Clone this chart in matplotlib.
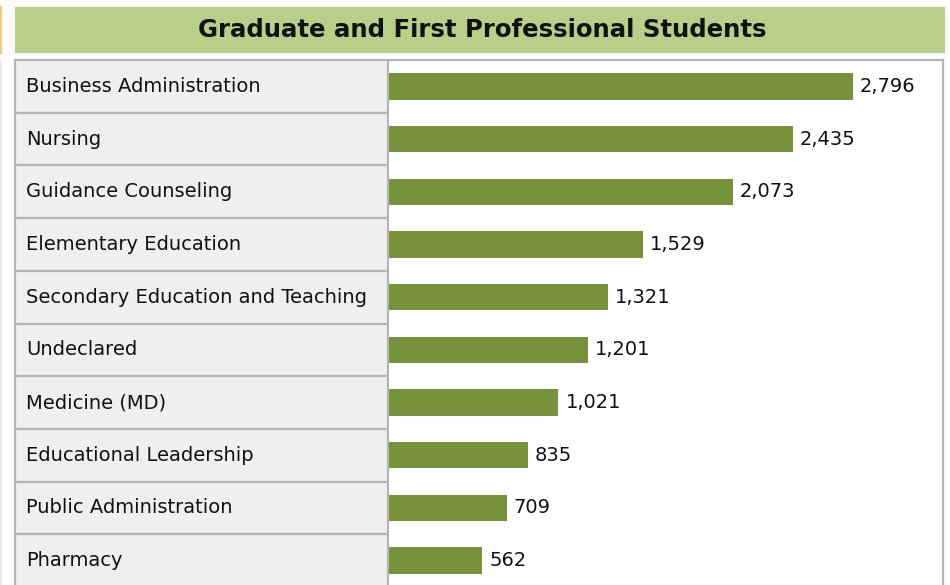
import matplotlib.pyplot as plt
from matplotlib.patches import Rectangle

title = 'Graduate and First Professional Students'
programs = ['Business Administration', 'Nursing', 'Guidance Counseling',
            'Elementary Education', 'Secondary Education and Teaching',
            'Undeclared', 'Medicine (MD)', 'Educational Leadership',
            'Public Administration', 'Pharmacy']
students = [2796, 2435, 2073, 1529, 1321, 1201, 1021, 835, 709, 562]

W, H = 950, 585
fig = plt.figure(figsize=(W / 100, H / 100), dpi=100)
fig.patch.set_facecolor('white')

def px_axes(x0, y0, x1, y1):
    # pixel box (top-left origin) -> figure axes
    return fig.add_axes([x0 / W, 1 - y1 / H, (x1 - x0) / W, (y1 - y0) / H])

font = 'DejaVu Sans'
grid = '#b4b4b4'
row_h = 52.7
top = 60
n_vis = (H - top) / row_h

# title band
tax = px_axes(15, 7, 945, 53)
tax.set_facecolor('#b8cf8a')
tax.set_xticks([]); tax.set_yticks([])
for s in tax.spines.values():
    s.set_visible(False)
tax.text(0.502, 0.5, title, ha='center', va='center', fontsize=17.6,
         fontweight='bold', family=font, color='#111111')

# thin marks on the far left
fig.add_artist(plt.Line2D([0.8 / W, 0.8 / W], [1 - 7 / H, 1 - 53 / H],
                          color='#f7cc78', lw=1.5))
fig.add_artist(plt.Line2D([0.8 / W, 0.8 / W], [1 - 60 / H, 0],
                          color='#ececec', lw=1.5))

# label column
lax = px_axes(15, top, 388, H)
lax.set_xlim(0, 1)
lax.set_ylim(n_vis - 0.5, -0.5)
lax.axis('off')
for i, name in enumerate(programs):
    lax.add_patch(Rectangle((0, i - 0.5), 1, 1, facecolor='#efefef',
                            edgecolor=grid, lw=1.6, clip_on=False))
    lax.text(0.03, i, name, va='center', ha='left', fontsize=14,
             family=font, color='#111111')

# bars
bax = px_axes(389, top, 943, H)
scale = 464 / 2796
bax.set_xlim(0, (943 - 389) / scale)
bax.set_ylim(n_vis - 0.5, -0.5)
bax.barh(range(len(programs)), students, height=0.5, color='#77923a')
for i, v in enumerate(students):
    bax.text(v + 7 / scale, i, f'{v:,}', va='center', ha='left',
             fontsize=14, family=font, color='#111111')
bax.set_xticks([]); bax.set_yticks([])
for k, s in bax.spines.items():
    s.set_color(grid)
    s.set_linewidth(1.6)
bax.spines['left'].set_visible(False)
bax.spines['bottom'].set_visible(False)

fig.savefig('out.png', dpi=100, facecolor='white')
